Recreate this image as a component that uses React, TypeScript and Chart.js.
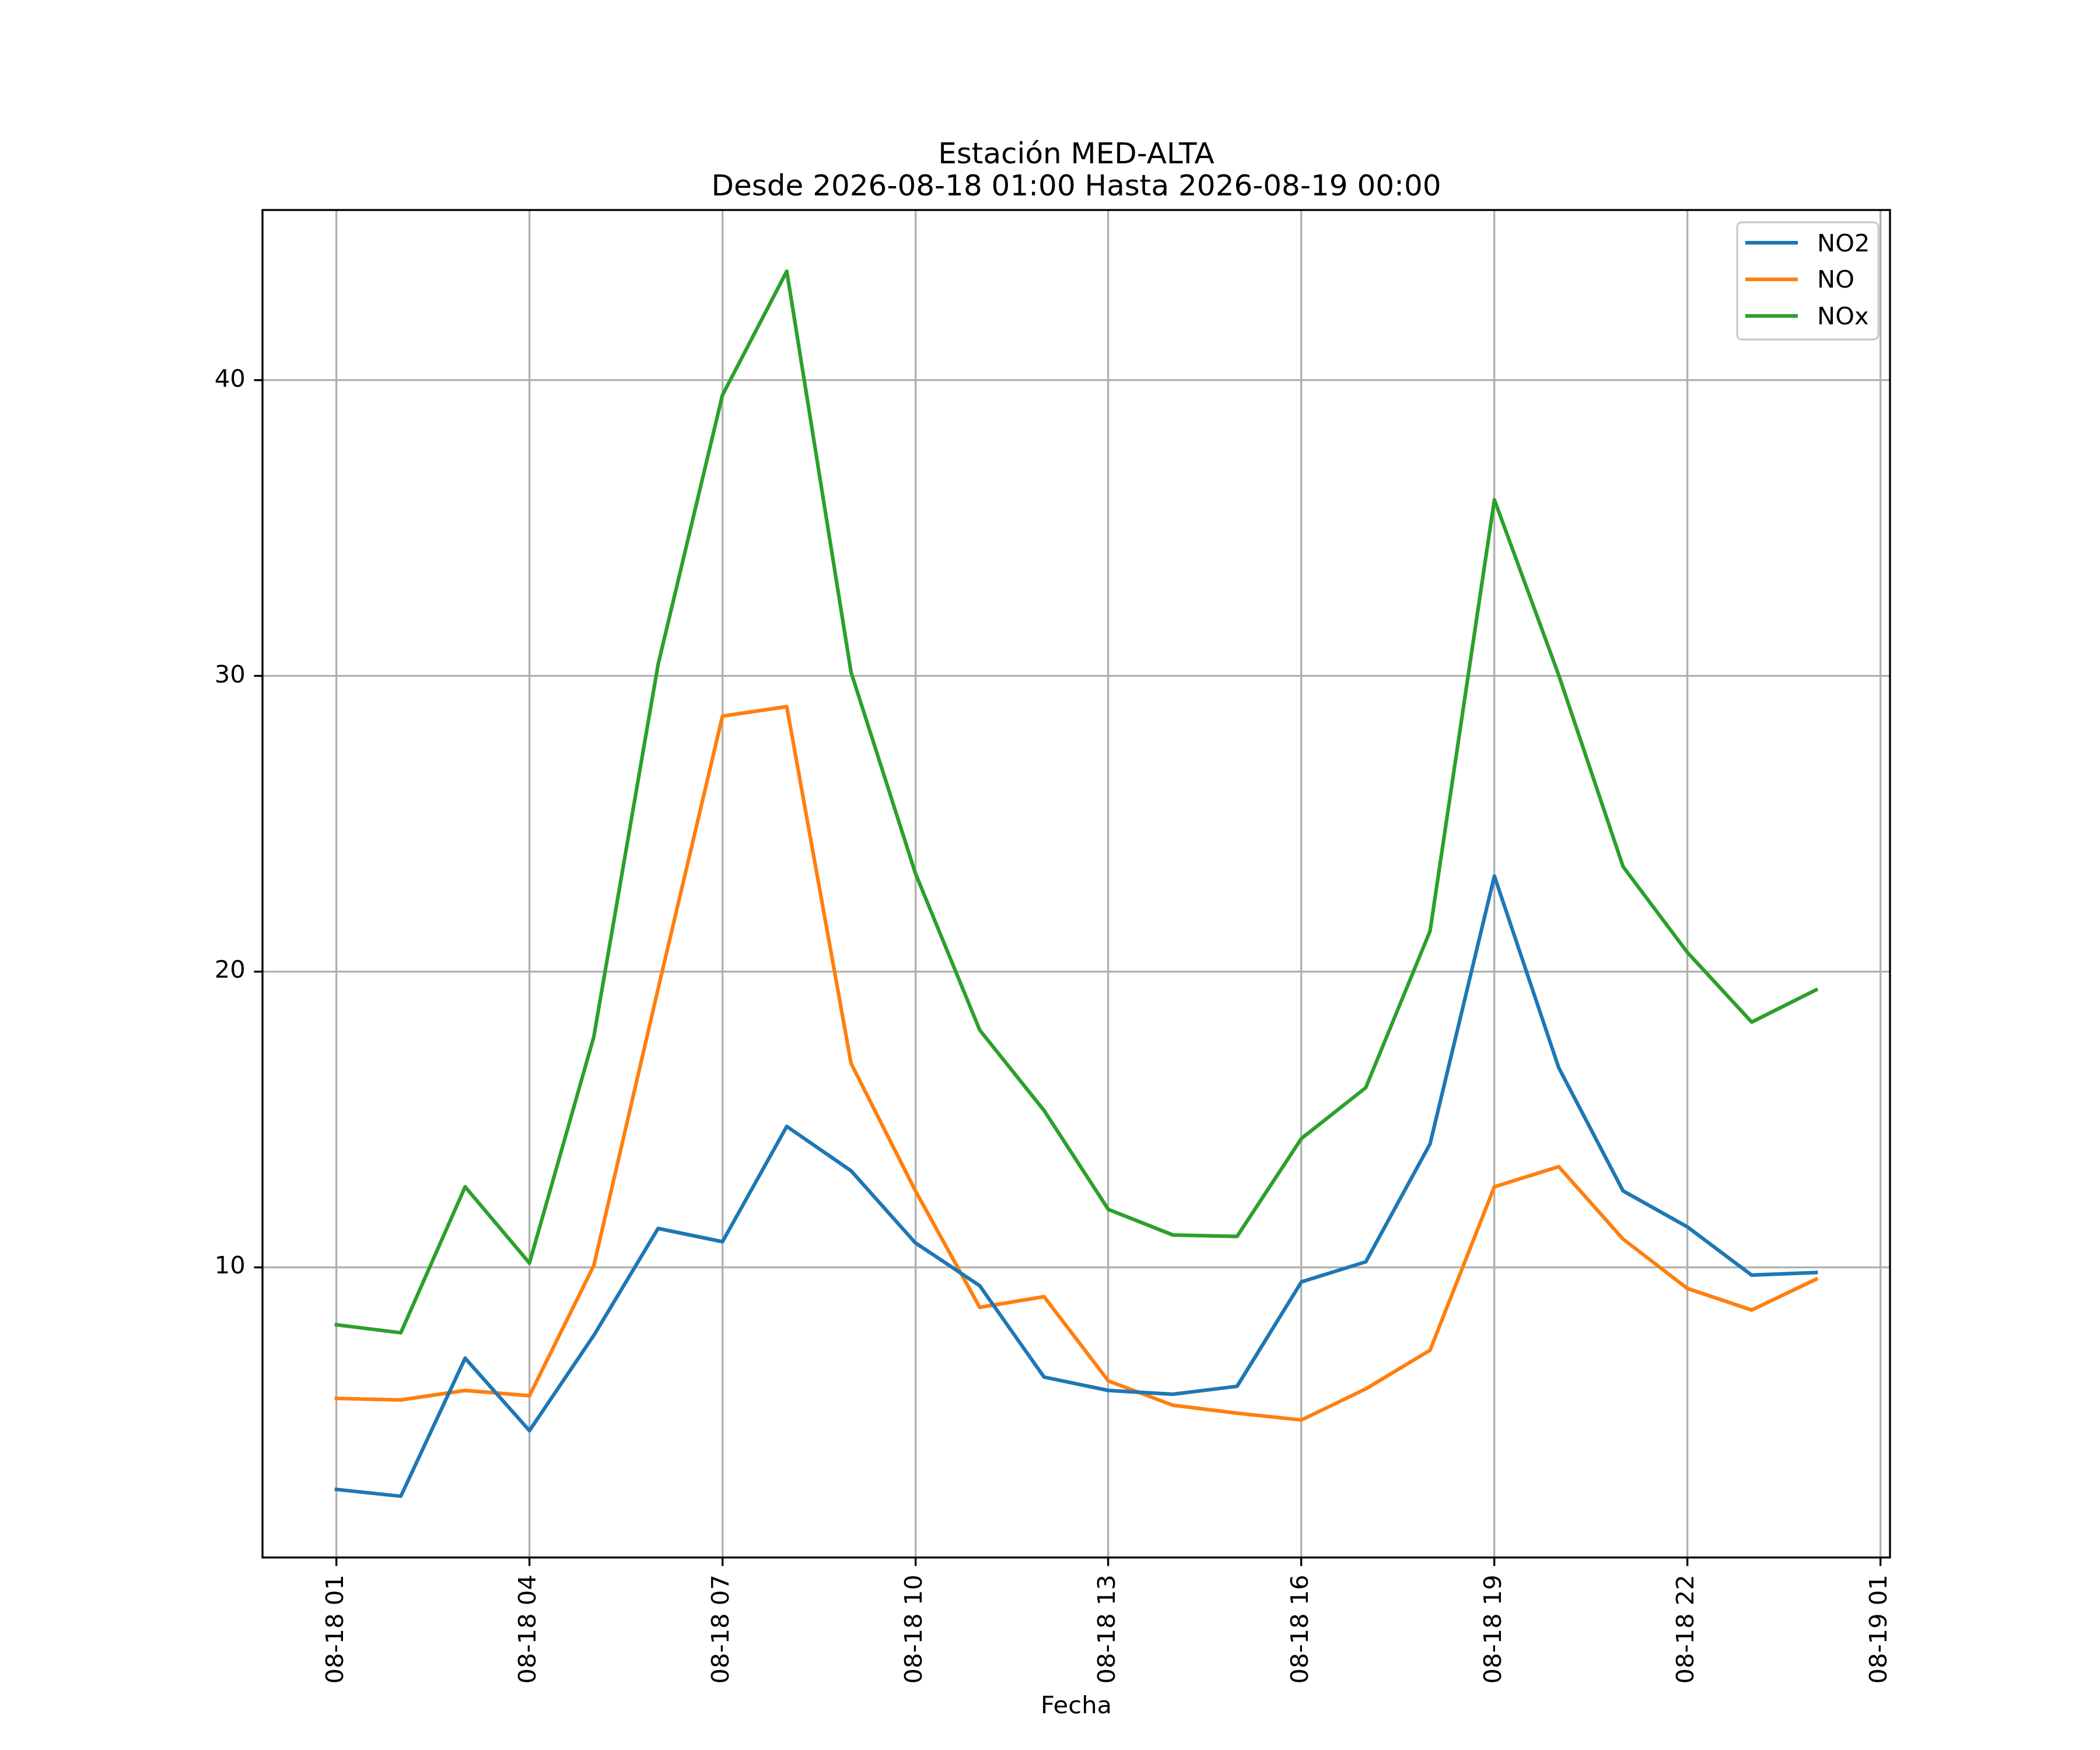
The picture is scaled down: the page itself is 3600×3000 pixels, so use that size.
import React, { useEffect, useRef } from 'react';
import { Chart, registerables } from 'chart.js';

Chart.register(...registerables);

// ---- data ----
const hours = [1, 2, 3, 4, 5, 6, 7, 8, 9, 10, 11, 12, 13, 14, 15, 16, 17, 18, 19, 20, 21, 22, 23, 24];
const no2Values = [2.48, 2.25, 6.92, 4.47, 7.69, 11.31, 10.86, 14.76, 13.26, 10.82, 9.37, 6.28, 5.83, 5.7, 5.97, 9.5, 10.18, 14.17, 23.23, 16.75, 12.58, 11.36, 9.73, 9.82];
const noValues = [5.56, 5.51, 5.83, 5.65, 10.05, 19.42, 28.64, 28.96, 16.89, 12.58, 8.64, 9.0, 6.15, 5.33, 5.06, 4.83, 5.88, 7.19, 12.72, 13.4, 10.95, 9.28, 8.55, 9.59];
const noxValues = [8.05, 7.78, 12.72, 10.14, 17.79, 30.39, 39.5, 43.69, 30.12, 23.32, 18.02, 15.3, 11.95, 11.09, 11.04, 14.35, 16.07, 21.37, 35.96, 30.03, 23.55, 20.65, 18.29, 19.38];
const seriesNames = ['NO2', 'NO', 'NOx'];
const seriesValues = [no2Values, noValues, noxValues];
const seriesColors = ['#1f77b4', '#ff7f0e', '#2ca02c'];
const yTickValues = [10, 20, 30, 40];
const xTickValues = [1, 4, 7, 10, 13, 16, 19, 22, 25];
const xTickLabels = ['08-18 01', '08-18 04', '08-18 07', '08-18 10', '08-18 13', '08-18 16', '08-18 19', '08-18 22', '08-19 01'];
const titleLines = ['Estación MED-ALTA', 'Desde 2026-08-18 01:00 Hasta 2026-08-19 00:00'];
const xAxisTitle = 'Fecha';

const FONT = "'DejaVu Sans', 'Liberation Sans', sans-serif";
const PT = 300 / 72;

const decor = {
  id: 'decor',
  beforeDraw(chart: any) {
    const ctx = chart.ctx;
    ctx.save();
    ctx.fillStyle = '#ffffff';
    ctx.fillRect(0, 0, chart.width, chart.height);
    ctx.restore();
  },
  afterDatasetsDraw(chart: any) {
    const ctx = chart.ctx;
    const a = chart.chartArea;
    ctx.save();
    ctx.strokeStyle = '#000000';
    ctx.lineWidth = 0.8 * PT;
    ctx.lineJoin = 'miter';
    ctx.strokeRect(a.left, a.top, a.right - a.left, a.bottom - a.top);
    ctx.restore();
  },
  afterDraw(chart: any) {
    const ctx = chart.ctx;
    const a = chart.chartArea;
    const cx = (a.left + a.right) / 2;
    ctx.save();
    ctx.fillStyle = '#000000';
    ctx.textAlign = 'center';
    ctx.textBaseline = 'alphabetic';
    ctx.font = `${12 * PT}px ${FONT}`;
    ctx.fillText(titleLines[0], cx, a.top - 80);
    ctx.fillText(titleLines[1], cx, a.top - 25);
    ctx.font = `${10 * PT}px ${FONT}`;
    ctx.fillText(xAxisTitle, cx, a.bottom + 267);

    // legend
    const boxR = a.right - 20;
    const boxT = a.top + 21;
    const boxW = 242;
    const boxH = 201;
    const boxL = boxR - boxW;
    const r = 8;
    ctx.beginPath();
    ctx.moveTo(boxL + r, boxT);
    ctx.lineTo(boxR - r, boxT);
    ctx.arcTo(boxR, boxT, boxR, boxT + r, r);
    ctx.lineTo(boxR, boxT + boxH - r);
    ctx.arcTo(boxR, boxT + boxH, boxR - r, boxT + boxH, r);
    ctx.lineTo(boxL + r, boxT + boxH);
    ctx.arcTo(boxL, boxT + boxH, boxL, boxT + boxH - r, r);
    ctx.lineTo(boxL, boxT + r);
    ctx.arcTo(boxL, boxT, boxL + r, boxT, r);
    ctx.closePath();
    ctx.fillStyle = 'rgba(255,255,255,0.8)';
    ctx.fill();
    ctx.strokeStyle = '#cccccc';
    ctx.lineWidth = 0.8 * PT;
    ctx.stroke();

    ctx.textAlign = 'left';
    ctx.font = `${10 * PT}px ${FONT}`;
    seriesNames.forEach((name, i) => {
      const y = boxT + 35 + i * 62.8;
      ctx.beginPath();
      ctx.moveTo(boxL + 14, y);
      ctx.lineTo(boxL + 104, y);
      ctx.strokeStyle = seriesColors[i];
      ctx.lineWidth = 1.5 * PT;
      ctx.lineCap = 'butt';
      ctx.stroke();
      ctx.fillStyle = '#000000';
      ctx.fillText(name, boxL + 137, y + 14.5);
    });
    ctx.restore();
  },
};

export default function App() {
  const canvasRef = useRef<HTMLCanvasElement | null>(null);

  useEffect(() => {
    const canvas = canvasRef.current;
    if (!canvas) return;
    const all = ([] as number[]).concat(...seriesValues);
    const dMin = Math.min(...all);
    const dMax = Math.max(...all);
    const yPad = (dMax - dMin) * 0.05;
    const xPad = (hours[hours.length - 1] - hours[0]) * 0.05;

    const chart = new Chart(canvas, {
      type: 'line',
      data: {
        datasets: seriesNames.map((name, i) => ({
          label: name,
          data: hours.map((h, j) => ({ x: h, y: seriesValues[i][j] })),
          borderColor: seriesColors[i],
          backgroundColor: seriesColors[i],
          borderWidth: 1.5 * PT,
          pointRadius: 0,
          tension: 0,
          fill: false,
          borderJoinStyle: 'round',
          borderCapStyle: 'square',
        })),
      },
      options: {
        animation: false,
        responsive: false,
        devicePixelRatio: 1,
        events: [],
        layout: { padding: { left: 0, top: 360, right: 360, bottom: 0 } },
        plugins: {
          legend: { display: false },
          title: { display: false },
          tooltip: { enabled: false },
        },
        scales: {
          x: {
            type: 'linear',
            min: hours[0] - xPad,
            max: hours[hours.length - 1] + xPad,
            afterBuildTicks: (scale: any) => {
              scale.ticks = xTickValues.map((v) => ({ value: v }));
            },
            afterFit: (scale: any) => {
              scale.height = 330;
            },
            ticks: {
              autoSkip: false,
              minRotation: 90,
              maxRotation: 90,
              padding: 3.5 * PT,
              color: '#000000',
              font: { family: FONT, size: 10 * PT },
              callback: (value: any) => {
                const idx = xTickValues.indexOf(Number(value));
                return idx >= 0 ? xTickLabels[idx] : '';
              },
            },
            grid: {
              color: '#b0b0b0',
              lineWidth: 0.8 * PT,
              drawTicks: true,
              tickLength: 3.5 * PT,
              tickColor: '#000000',
              tickWidth: 0.8 * PT,
            },
            border: { display: false },
          },
          y: {
            type: 'linear',
            min: dMin - yPad,
            max: dMax + yPad,
            afterBuildTicks: (scale: any) => {
              scale.ticks = yTickValues.map((v) => ({ value: v }));
            },
            afterFit: (scale: any) => {
              scale.width = 450;
            },
            ticks: {
              autoSkip: false,
              padding: 3.5 * PT,
              color: '#000000',
              font: { family: FONT, size: 10 * PT },
              callback: (value: any) => String(value),
            },
            grid: {
              color: '#b0b0b0',
              lineWidth: 0.8 * PT,
              drawTicks: true,
              tickLength: 3.5 * PT,
              tickColor: '#000000',
              tickWidth: 0.8 * PT,
            },
            border: { display: false },
          },
        },
      },
      plugins: [decor],
    } as any);

    return () => {
      chart.destroy();
    };
  }, []);

  return (
    <div style={{ position: 'absolute', left: 0, top: 0, width: 3600, height: 3000, background: '#ffffff' }}>
      <canvas ref={canvasRef} width={3600} height={3000} style={{ width: 3600, height: 3000, display: 'block' }} />
    </div>
  );
}
